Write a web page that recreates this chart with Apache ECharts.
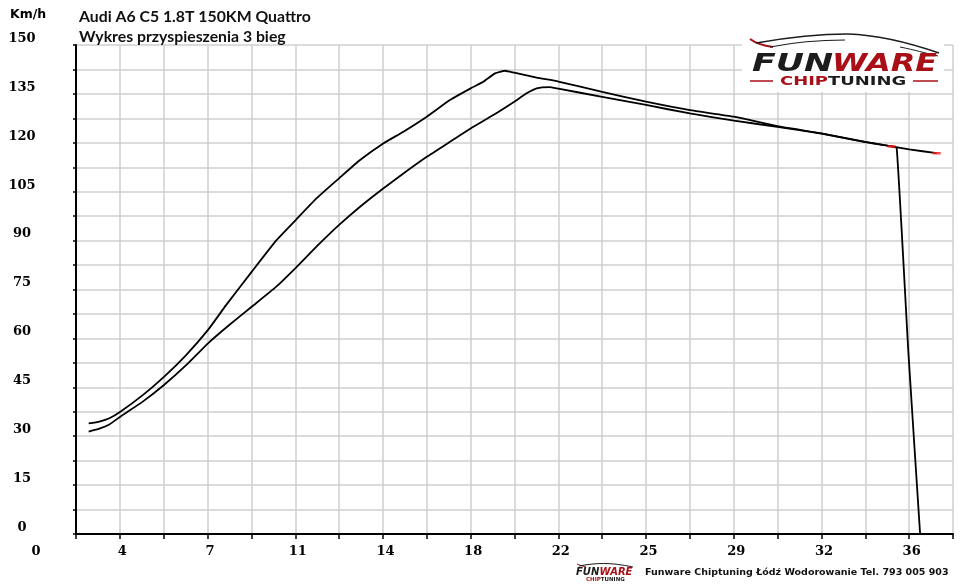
<!DOCTYPE html>
<html>
<head>
<meta charset="utf-8">
<script src="https://cdn.jsdelivr.net/npm/echarts@6/dist/echarts.min.js"></script>
<style>
html,body{margin:0;padding:0;background:#fff;}
#chart{width:960px;height:588px;}
</style>
</head>
<body>
<div id="chart"></div>
<script>
// ---- data ----
const xTickLabels = ['0','4','7','11','14','18','22','25','29','32','36'];
const yTickLabels = ['0','15','30','45','60','75','90','105','120','135','150'];

// upper curve
const timeA = [2.32, 2.76, 3.17, 3.62, 4.54, 5.41, 6.32, 7.22, 7.96, 9.01, 10.04, 10.82, 11.68, 12.6, 13.46, 14.41, 15.24, 16.2, 17.15, 18.0, 18.52, 19.0, 19.41, 19.79, 20.71, 21.6, 23.4, 25.2, 27.0, 28.81, 30.59, 32.4, 34.2, 36.0, 37.13];
const speedA = [33.9, 34.5, 35.5, 37.5, 42.6, 48.2, 54.9, 62.6, 70.2, 80.4, 90.2, 96.3, 103.0, 109.1, 114.7, 119.8, 123.4, 128.0, 133.1, 136.7, 138.7, 141.3, 142.1, 141.5, 140.0, 138.8, 135.6, 132.6, 130.0, 128.0, 125.1, 122.9, 120.3, 118.0, 116.8];

// lower curve
const timeB = [2.32, 2.76, 3.17, 3.62, 4.54, 5.41, 6.32, 7.22, 8.09, 9.01, 10.01, 10.8, 11.68, 12.6, 13.46, 14.41, 15.24, 16.2, 17.15, 18.0, 18.93, 19.79, 20.3, 20.71, 21.23, 21.6, 23.4, 25.2, 27.0, 28.81, 30.59, 32.4, 34.2, 35.28, 35.49, 35.97, 36.45];
const speedB = [31.4, 32.3, 33.6, 36.0, 40.6, 45.7, 51.8, 58.5, 64.1, 69.7, 75.8, 81.5, 88.2, 94.8, 100.4, 106.0, 110.6, 115.7, 120.3, 124.4, 128.5, 132.6, 135.2, 136.7, 137.1, 136.6, 134.1, 131.6, 129.0, 126.8, 124.9, 122.8, 120.2, 118.9, 118.3, 55.5, 0];
const endIndexB = 33; // last point before the drop

const titleLines = ['Audi A6 C5 1.8T 150KM Quattro', 'Wykres przyspieszenia 3 bieg'];
const unitLabel = 'Km/h';
const footerText = 'Funware Chiptuning Łódź Wodorowanie Tel. 793 005 903';

// ---- chart ----
const seriesA = timeA.map((t, i) => [t, speedA[i]]);
const seriesB = timeB.map((t, i) => [t, speedB[i]]);
const endMarks = [seriesA[seriesA.length - 1], seriesB[endIndexB]];

const RED = '#a80f16';
const DARK = '#1c1c1c';
const GRIDC = '#cfcfcf';
const labelFont = 'DejaVu Serif';

function txt(text, x, y, font, fill, align, extra) {
  return Object.assign({
    type: 'text', z: 20,
    style: {
      text: text, x: x, y: y, font: font, fill: fill,
      align: align || 'left', verticalAlign: 'middle',
      textAlign: align || 'left', textVerticalAlign: 'middle'
    }
  }, extra || {});
}
function curve(shape, stroke, width) {
  return {type: 'bezierCurve', z: 20, shape: shape, style: {fill: null, stroke: stroke, lineWidth: width}};
}

const chart = echarts.init(document.getElementById('chart'), null, {renderer: 'canvas'});
chart.setOption({
  animation: false,
  backgroundColor: '#fff',
  grid: {left: 76, right: 7, top: 45, bottom: 54, containLabel: false, show: false},
  xAxis: {
    type: 'value', min: 1.8, max: 37.8, interval: 1.8,
    axisLine: {show: true, onZero: false, lineStyle: {color: '#000', width: 2}},
    axisTick: {show: true, length: 5, lineStyle: {color: '#000', width: 1.5}},
    splitLine: {show: true, showMinLine: true, showMaxLine: true, lineStyle: {color: GRIDC, width: 1.5, opacity: 1, type: 'solid'}},
    axisLabel: {
      margin: 11, padding: [0, 0, 0, 5],
      fontFamily: labelFont, fontWeight: 'bold', fontSize: 13, color: '#000',
      showMinLabel: true, showMaxLabel: true,
      formatter: function (v) {
        const k = Math.round(v / 1.8);
        return k % 2 === 0 ? (xTickLabels[k / 2] || '') : '';
      }
    }
  },
  yAxis: {
    type: 'value', min: 0, max: 150, interval: 7.5,
    axisLine: {show: true, onZero: false, lineStyle: {color: '#000', width: 2}},
    axisTick: {show: true, length: 3, lineStyle: {color: '#000', width: 1.5}},
    splitLine: {show: true, showMinLine: true, showMaxLine: true, lineStyle: {color: GRIDC, width: 1.5, opacity: 1, type: 'solid'}},
    axisLabel: {
      margin: 54, align: 'center', verticalAlign: 'bottom',
      fontFamily: labelFont, fontWeight: 'bold', fontSize: 13, color: '#000',
      showMinLabel: true, showMaxLabel: true,
      formatter: function (v) {
        const k = Math.round(v / 7.5);
        return k % 2 === 0 ? (yTickLabels[k / 2] || '') : '';
      }
    }
  },
  series: [
    {
      type: 'line', data: seriesA, symbol: 'none', smooth: 0.15,
      lineStyle: {color: '#000', width: 1.8}, z: 3
    },
    {
      type: 'line', data: seriesB, symbol: 'none', smooth: 0.15,
      lineStyle: {color: '#000', width: 1.8}, z: 3
    },
    {
      type: 'scatter', data: endMarks, symbol: 'rect', symbolSize: [8, 2.5],
      itemStyle: {color: '#ff1a1a'}, z: 4, silent: true
    }
  ],
  graphic: {
    elements: [
      txt(unitLabel, 10, 15, 'bold 12.5px "DejaVu Sans"', '#000'),
      txt(titleLines[0], 79, 17, 'bold 15.8px Lato', '#111'),
      txt(titleLines[1], 79, 37, 'bold 15.8px Lato', '#111'),
      txt('0', 36, 552, 'bold 13px "' + labelFont + '"', '#000', 'center'),
      // logo background
      {type: 'rect', z: 15, shape: {x: 742, y: 28, width: 202, height: 64}, style: {fill: '#fff'}},
      // car silhouette
      curve({x1: 750, y1: 39, x2: 773, y2: 47, cpx1: 758, cpy1: 45}, RED, 2),
      curve({x1: 756, y1: 43, x2: 848, y2: 34, cpx1: 790, cpy1: 37, cpx2: 815, cpy2: 34}, DARK, 1.6),
      curve({x1: 848, y1: 34, x2: 939, y2: 53, cpx1: 880, cpy1: 35, cpx2: 910, cpy2: 43}, DARK, 1.6),
      curve({x1: 770, y1: 47, x2: 845, y2: 40, cpx1: 795, cpy1: 42, cpx2: 820, cpy2: 40}, DARK, 1.1),
      curve({x1: 900, y1: 47, x2: 938, y2: 56, cpx1: 915, cpy1: 50, cpx2: 925, cpy2: 53}, DARK, 1),
      // FUNWARE
      txt('FUN', 0, 0, 'italic bold 24px "DejaVu Sans"', DARK, 'left', {x: 752, y: 65, scaleX: 1.45}),
      txt('WARE', 0, 0, 'italic bold 24px "DejaVu Sans"', RED, 'left', {x: 832, y: 65, scaleX: 1.33}),
      // CHIPTUNING
      {type: 'line', z: 20, shape: {x1: 750, y1: 81, x2: 773, y2: 81}, style: {stroke: RED, lineWidth: 1.5}},
      {type: 'line', z: 20, shape: {x1: 913, y1: 81, x2: 938, y2: 81}, style: {stroke: RED, lineWidth: 1.5}},
      txt('CHIP', 0, 0, 'bold 13px "DejaVu Sans"', RED, 'left', {x: 780, y: 82, scaleX: 1.38}),
      txt('TUNING', 0, 0, 'bold 13px "DejaVu Sans"', DARK, 'left', {x: 828, y: 82, scaleX: 1.38}),
      // footer mini logo
      curve({x1: 577, y1: 564, x2: 586, y2: 567, cpx1: 581, cpy1: 566}, RED, 1),
      curve({x1: 579, y1: 566, x2: 633, y2: 567, cpx1: 595, cpy1: 563, cpx2: 610, cpy2: 562}, DARK, 1),
      txt('FUN', 576, 572, 'italic bold 10px "DejaVu Sans"', DARK),
      txt('WARE', 599.5, 572, 'italic bold 10px "DejaVu Sans"', RED),
      txt('CHIP', 586, 579.5, 'bold 5.5px "DejaVu Sans"', RED),
      txt('TUNING', 600.8, 579.5, 'bold 5.5px "DejaVu Sans"', DARK),
      // footer text
      txt(footerText, 645, 573, 'bold 9.5px "DejaVu Sans"', '#111')
    ]
  }
});
</script>
</body>
</html>
